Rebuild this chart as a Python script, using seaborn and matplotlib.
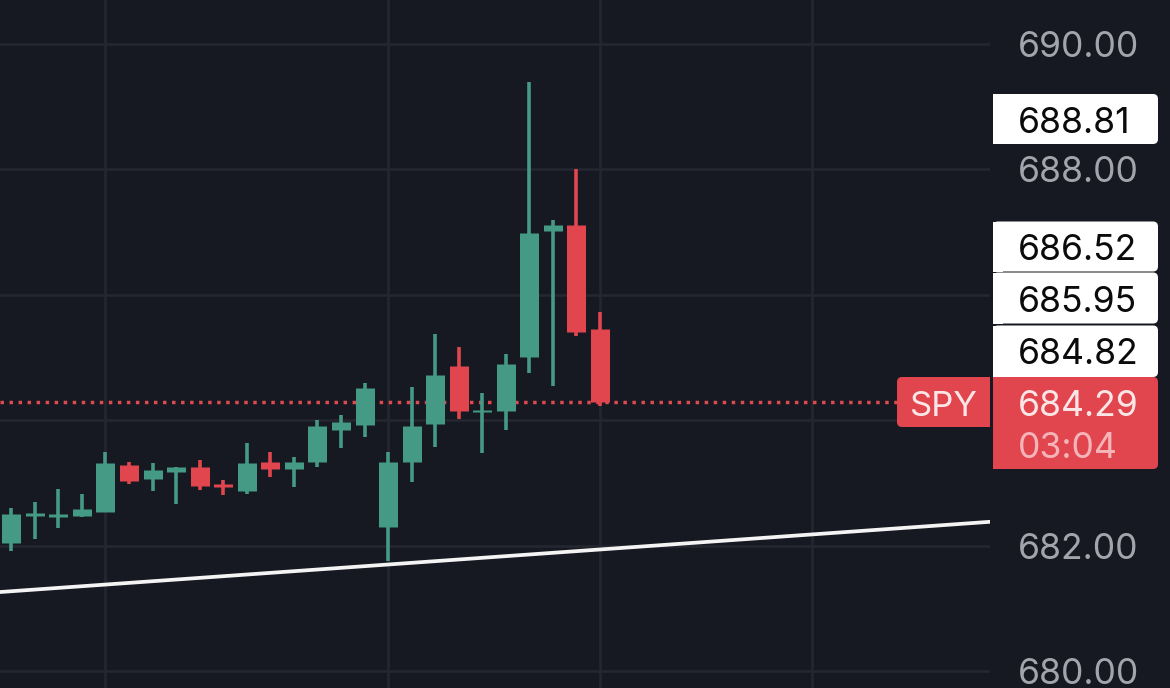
import pandas as pd
import matplotlib
matplotlib.use('Agg')
import matplotlib.pyplot as plt
from matplotlib.patches import FancyBboxPatch, Rectangle
import seaborn as sns

# 26 根 K 线, 价格从图上估读
highs = [682.60, 682.69, 682.91, 682.82, 683.49, 683.33, 683.31, 683.26, 683.37, 683.04, 683.63, 683.49, 683.41,
         684.01, 684.08, 684.60, 683.49, 684.53, 685.37, 685.16, 684.43, 685.05, 689.40, 687.19, 688.00, 685.72]
lows = [681.91, 682.10, 682.28, 682.45, 682.53, 682.98, 682.87, 682.67, 682.88, 682.80, 682.82, 683.09, 682.93,
        683.25, 683.55, 683.73, 681.75, 683.01, 683.57, 684.02, 683.47, 683.84, 684.76, 684.54, 685.35, 684.22]
opens = [682.04, 682.47, 682.45, 682.48, 682.53, 683.29, 683.06, 683.17, 683.25, 682.98, 682.87, 683.33, 683.22,
         683.34, 683.85, 683.93, 682.29, 683.33, 683.94, 684.86, 684.13, 684.14, 685.00, 687.01, 687.11, 685.45]
closes = [682.50, 682.52, 682.50, 682.58, 683.31, 683.03, 683.20, 683.25, 682.95, 682.93, 683.31, 683.22, 683.34,
          683.90, 683.97, 684.52, 683.33, 683.90, 684.72, 684.14, 684.17, 684.89, 686.98, 687.11, 685.40, 684.29]

last_price = 684.29
trend_prices = [681.26, 682.38]
y_ticks = [680, 682, 684, 686, 688, 690]
y_tick_labels = ['680.00', '682.00', '', '', '688.00', '690.00']
x_ticks = [4, 16, 25, 34]
white_labels = ['688.81', '686.52', '685.95', '684.82']
symbol = 'SPY'
countdown = '03:04'

BG = '#161922'
GRID = '#24272F'
GREEN = '#459A86'
RED = '#E1464E'
X_MIN, X_MAX = -0.48, 41.56

sns.set_theme(style='dark')
plt.rcParams['font.family'] = ['Inter', 'DejaVu Sans']

df = pd.DataFrame({'idx': range(len(opens)), 'open': opens, 'high': highs, 'low': lows, 'close': closes})
df['side'] = ['up' if c >= o else 'down' for o, c in zip(opens, closes)]
palette = {'up': GREEN, 'down': RED}

fig = plt.figure(figsize=(11.7, 6.88), dpi=100, facecolor=BG)
ax = fig.add_axes([0, 0, 990 / 1170, 1], facecolor=BG)

# 现价虚线和趋势线
price_line = pd.DataFrame({'x': [X_MIN, X_MAX], 'y': [last_price, last_price]})
sns.lineplot(data=price_line, x='x', y='y', color='#DE4A50', lw=2.5, linestyle=(0, (1, 1.6)), dash_capstyle='butt', ax=ax)

# 影线和实体
wicks = df.melt(id_vars=['idx', 'side'], value_vars=['high', 'low'], value_name='price')
bodies = df.melt(id_vars=['idx', 'side'], value_vars=['open', 'close'], value_name='price')
for part, width in [(wicks, 2.6), (bodies, 13.7)]:
    sns.lineplot(data=part, x='idx', y='price', units='idx', hue='side', palette=palette, estimator=None,
                 sort=False, lw=width, solid_capstyle='butt', legend=False, ax=ax)

trend = pd.DataFrame({'x': [X_MIN, X_MAX], 'y': trend_prices})
sns.lineplot(data=trend, x='x', y='y', color='#F4F4F4', lw=2.7, ax=ax)

ax.set_xlim(X_MIN, X_MAX)
ax.set_ylim(679.73, 690.70)
ax.set_xticks(x_ticks)
ax.set_xticklabels([])
ax.set_yticks(y_ticks)
ax.set_yticklabels(y_tick_labels)
ax.yaxis.tick_right()
ax.tick_params(axis='y', length=0, pad=20, labelsize=25.6, labelcolor='#A2A5AC')
ax.tick_params(axis='x', length=0)
ax.set_xlabel('')
ax.set_ylabel('')
ax.grid(True, color=GRID, lw=1.9)
ax.set_axisbelow(True)
sns.despine(ax=ax, left=True, bottom=True, right=True, top=True)

# 右侧价格标签, 用像素坐标的覆盖层
over = fig.add_axes([0, 0, 1, 1])
over.set_xlim(0, 1170)
over.set_ylim(688, 0)
over.axis('off')
over.patch.set_alpha(0)


def tag(x0, x1, y0, y1, color, square_left=False):
    over.add_patch(FancyBboxPatch((x0, y0), x1 - x0, y1 - y0, boxstyle='round,pad=0,rounding_size=5',
                                  fc=color, ec='none'))
    if square_left:
        over.add_patch(Rectangle((x0, y0), 10, y1 - y0, fc=color, ec='none'))


tag(993, 1158, 94, 144, 'white', square_left=True)
tag(993, 1158, 221.5, 271.5, 'white', square_left=True)
tag(993, 1158, 272.5, 323.5, 'white', square_left=True)
tag(993, 1158, 325.5, 377, 'white', square_left=True)
tag(993, 1158, 377, 469, RED, square_left=True)
tag(897, 1000, 377, 427, RED)
over.add_patch(Rectangle((990, 377), 3, 50, fc=BG, ec='none'))

for label, y in zip(white_labels, [120, 247.5, 299, 351.5]):
    over.text(1018, y, label, color='#0B0B0D', fontsize=25.6, va='center_baseline', ha='left')
over.text(1018, 403, f'{last_price:.2f}', color='#FBE6E7', fontsize=25.6, va='center_baseline', ha='left')
over.text(1018, 445, countdown, color='#F4B4B8', fontsize=25.6, va='center_baseline', ha='left')
over.text(910, 403, symbol, color='#FBE6E7', fontsize=25, va='center_baseline', ha='left')

fig.savefig('out.png', dpi=100, facecolor=BG)
